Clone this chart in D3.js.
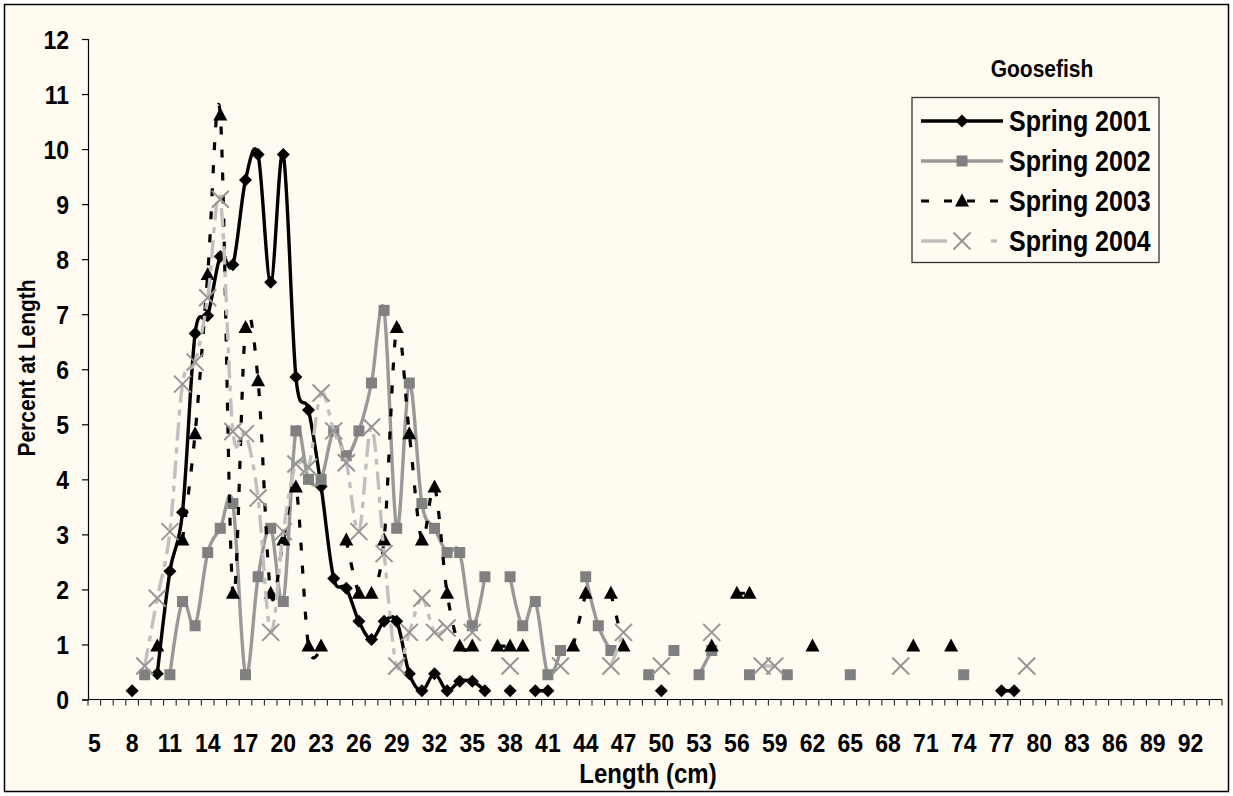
<!DOCTYPE html>
<html><head><meta charset="utf-8">
<script src="https://cdn.jsdelivr.net/npm/d3@7"></script>
<style>body{margin:0;background:#fff}svg text{font-family:"Liberation Sans",Arial,sans-serif;font-weight:bold;fill:#000}</style>
</head><body><svg id="c" width="1233" height="796"></svg>
<script>
const categories=[5,6,7,8,9,10,11,12,13,14,15,16,17,18,19,20,21,22,23,24,25,26,27,28,29,30,31,32,33,34,35,36,37,38,39,40,41,42,43,44,45,46,47,48,49,50,51,52,53,54,55,56,57,58,59,60,61,62,63,64,65,66,67,68,69,70,71,72,73,74,75,76,77,78,79,80,81,82,83,84,85,86,87,88,89,90,91,92,93,94];
const xTickLabels=[5,8,11,14,17,20,23,26,29,32,35,38,41,44,47,50,53,56,59,62,65,68,71,74,77,80,83,86,89,92];
const yTickLabels=[0,1,2,3,4,5,6,7,8,9,10,11,12];
const seriesNames=["Spring 2001","Spring 2002","Spring 2003","Spring 2004"];

const len2001=[8,10,11,12,13,14,15,16,17,18,19,20,21,22,23,24,25,26,27,28,29,30,31,32,33,34,35,36,38,40,41,50,77,78];
const pct2001=[0.16,0.47,2.33,3.40,6.65,6.97,8.05,7.90,9.44,9.90,7.58,9.90,5.86,5.26,3.87,2.20,2.02,1.42,1.09,1.42,1.42,0.47,0.16,0.47,0.16,0.33,0.33,0.16,0.16,0.16,0.16,0.16,0.16,0.16];

const len2002=[9,11,12,13,14,15,16,17,18,19,20,21,22,23,24,25,26,27,28,29,30,31,32,33,34,35,36,38,39,40,41,42,44,45,46,49,51,53,54,57,60,65,74];
const pct2002=[0.45,0.45,1.78,1.34,2.67,3.11,3.56,0.45,2.23,3.11,1.78,4.88,4.00,4.00,4.88,4.43,4.88,5.75,7.07,3.11,5.75,3.56,3.11,2.67,2.67,1.34,2.23,2.23,1.34,1.78,0.45,0.89,2.23,1.34,0.89,0.45,0.89,0.45,0.89,0.45,0.45,0.45,0.45];

const len2003=[10,12,13,14,15,16,17,18,19,20,21,22,23,25,26,27,28,29,30,31,32,33,34,35,37,38,39,43,44,46,47,54,56,57,62,70,73];
const pct2003=[0.97,2.90,4.83,7.72,10.62,1.93,6.76,5.79,1.93,2.90,3.86,0.97,0.97,2.90,1.93,1.93,2.90,6.76,4.83,2.90,3.86,1.93,0.97,0.97,0.97,0.97,0.97,0.97,1.93,1.93,0.97,0.97,1.93,1.93,0.97,0.97,0.97];

const len2004=[9,10,11,12,13,14,15,16,17,18,19,20,21,22,23,24,25,26,27,28,29,30,31,32,33,35,38,42,46,47,50,54,58,59,69,79];
const pct2004=[0.61,1.84,3.05,5.73,6.13,7.30,9.09,4.87,4.83,3.66,1.22,3.05,4.28,4.22,5.57,4.88,4.30,3.05,4.95,2.65,0.61,1.22,1.84,1.22,1.30,1.22,0.61,0.61,0.61,1.22,0.61,1.22,0.61,0.61,0.61,0.61];

const svg=d3.select("#c");
const BG="#fffbf0", SY=1.15;
svg.append("rect").attr("x",4.5).attr("y",4.5).attr("width",1224).attr("height",787)
  .attr("fill",BG).attr("stroke","#000").attr("stroke-width",1.5);

const x=d3.scaleBand().domain(categories).range([88,88+categories.length*12.6]).paddingInner(0).paddingOuter(0);
const y=d3.scaleLinear().domain([0,12]).range([699.5,39]);
const cx=c=>x(c)+x.bandwidth()/2;

function label(txt,px,py,size,anchor,rot){
  const g=svg.append("g").attr("transform",`translate(${px},${py})`+(rot?` rotate(${rot})`:""));
  g.append("text").attr("transform",`scale(1,${SY})`).attr("text-anchor",anchor||"middle")
   .attr("dy","0.35em").style("font-size",size+"px").text(txt);
}

// axes
const yAxis=d3.axisLeft(y).tickValues(yTickLabels).tickFormat(d3.format("d")).tickSize(6).tickPadding(13);
const gy=svg.append("g").attr("transform","translate(88,0)").call(yAxis);
gy.select(".domain").attr("stroke","#000").attr("stroke-width",1.2);
gy.selectAll(".tick line").attr("stroke","#000").attr("stroke-width",1.2);
gy.selectAll(".tick text").style("font-size","23px").attr("dy",null).attr("dominant-baseline","central")
  .attr("transform",`scale(1,${SY})`);

const gx=svg.append("g").attr("transform","translate(0,699.5)");
gx.append("line").attr("x1",88).attr("x2",x.range()[1]).attr("stroke","#000").attr("stroke-width",1.2);
const bounds=categories.map(c=>x(c)).concat([x.range()[1]]);
gx.selectAll("line.tk").data(bounds).join("line").attr("class","tk")
  .attr("x1",d=>d).attr("x2",d=>d).attr("y1",0).attr("y2",6).attr("stroke","#222").attr("stroke-width",1.1);
gx.selectAll("g.lb").data(xTickLabels).join("g").attr("class","lb")
  .attr("transform",d=>`translate(${cx(d)},43.5)`)
  .append("text").attr("transform",`scale(1,${SY})`).attr("text-anchor","middle").attr("dy","0.35em")
  .style("font-size","23px").text(d=>d);

label("Length (cm)",648,773,24);
label("Percent at Length",27,368,21,"middle",-90);
label("Goosefish",1042,69,21);

// series
const diamond="M0,-6.5L6.5,0L0,6.5L-6.5,0Z";
const tri="M0,-7.5L7,5.5L-7,5.5Z";
const cfg=[
 {len:len2001,pct:pct2001,stroke:"#000",w:3.4,dash:null,ldash:null,marker:"diamond"},
 {len:len2002,pct:pct2002,stroke:"#999",w:3.4,dash:null,ldash:null,marker:"square"},
 {len:len2003,pct:pct2003,stroke:"#000",w:3.2,dash:"8,15",ldash:"8,15",marker:"tri"},
 {len:len2004,pct:pct2004,stroke:"#c0c0c0",w:3.4,dash:"18,7,6,7",ldash:"26,44,6,40",marker:"x"}
];
function drawMarker(g,type,px,py){
  if(type==="diamond") g.append("path").attr("d",diamond).attr("transform",`translate(${px},${py})`).attr("fill","#000");
  else if(type==="square") g.append("rect").attr("x",px-5.5).attr("y",py-5.5).attr("width",11).attr("height",11).attr("fill","#808080");
  else if(type==="tri") g.append("path").attr("d",tri).attr("transform",`translate(${px},${py})`).attr("fill","#000");
  else { const s=8.5;
    g.append("path").attr("d",`M${px-s},${py-s}L${px+s},${py+s}M${px-s},${py+s}L${px+s},${py-s}`)
     .attr("stroke","#969696").attr("stroke-width",2).attr("fill","none"); }
}
const line=d3.line().defined(d=>d.v!=null).x(d=>cx(d.c)).y(d=>y(d.v)).curve(d3.curveCardinal.tension(0));
cfg.forEach(s=>{
  const m=new Map(s.len.map((l,i)=>[l,s.pct[i]]));
  const data=categories.map(c=>({c,v:m.has(c)?m.get(c):null}));
  const g=svg.append("g");
  g.append("path").datum(data).attr("d",line).attr("fill","none").attr("stroke",s.stroke)
   .attr("stroke-width",s.w).attr("stroke-dasharray",s.dash).attr("stroke-linejoin","round");
  data.filter(d=>d.v!=null).forEach(d=>drawMarker(g,s.marker,cx(d.c),y(d.v)));
});

// legend
svg.append("rect").attr("x",912).attr("y",97.5).attr("width",247).attr("height",165)
  .attr("fill",BG).attr("stroke","#333").attr("stroke-width",1.3);
const rows=[121,161,201,241];
cfg.forEach((s,i)=>{
  const g=svg.append("g");
  g.append("line").attr("x1",921).attr("x2",1003).attr("y1",rows[i]).attr("y2",rows[i])
   .attr("stroke",s.stroke).attr("stroke-width",s.w).attr("stroke-dasharray",s.ldash);
  drawMarker(g,s.marker,962,rows[i]);
  const t=svg.append("g").attr("transform",`translate(1009,${rows[i]})`);
  t.append("text").attr("transform",`scale(1,${SY})`).attr("dy","0.35em").style("font-size","25px").text(seriesNames[i]);
});
</script></body></html>
